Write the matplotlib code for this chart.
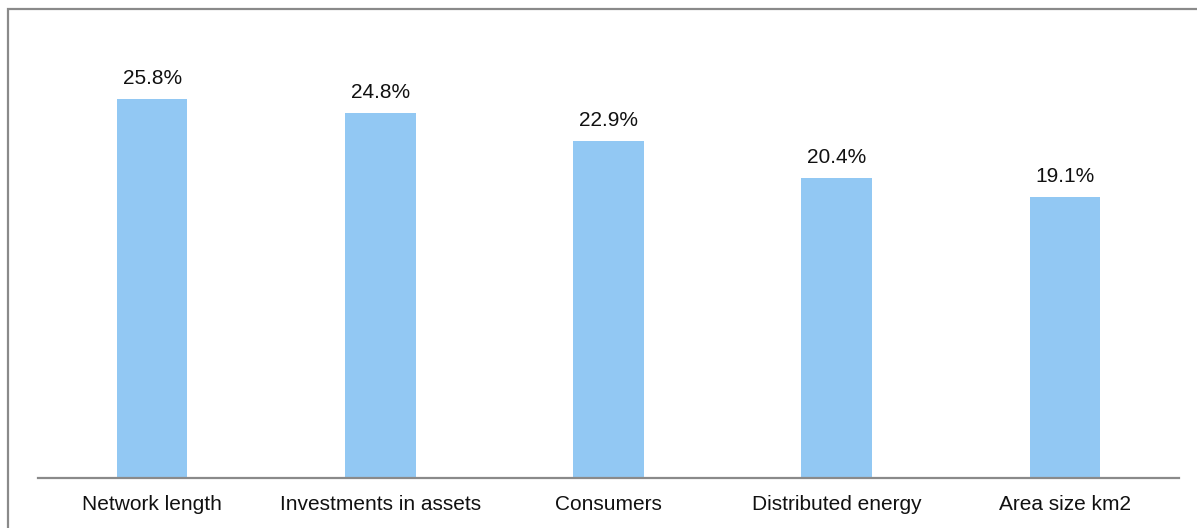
import matplotlib.pyplot as plt
from matplotlib.patches import Rectangle

categories = ['Network length', 'Investments in assets', 'Consumers',
              'Distributed energy', 'Area size km2']
shares = [25.8, 24.8, 22.9, 20.4, 19.1]

plt.rcParams['font.family'] = ['Liberation Sans', 'DejaVu Sans']

fig = plt.figure(figsize=(11.97, 5.28), dpi=100)
W, H = 1197, 528

# Outer frame, open to the right and bottom
fig.patches.append(Rectangle((8 / W, -0.1), 1.2, (H - 9) / H + 0.1,
                             transform=fig.transFigure, fill=False,
                             edgecolor='#8a8a8a', linewidth=1.6))

ax = fig.add_axes([38 / W, 50 / H, (1179 - 38) / W, (478 - 37) / H])
x = range(len(categories))
bars = ax.bar(x, shares, width=0.31, color='#92C8F3')

for rect, v in zip(bars, shares):
    ax.annotate(f'{v}%', (rect.get_x() + rect.get_width() / 2, v),
                xytext=(0, 8), textcoords='offset points',
                ha='center', va='bottom', fontsize=15, color='#111111')

ax.set_xlim(-0.5, len(categories) - 0.5)
ax.set_ylim(0, 30)
ax.set_xticks(list(x))
ax.set_xticklabels(categories, fontsize=15, color='#111111')
ax.tick_params(axis='x', length=0, pad=12)
ax.set_yticks([])
for side in ['top', 'right', 'left']:
    ax.spines[side].set_visible(False)
ax.spines['bottom'].set_color('#8a8a8a')
ax.spines['bottom'].set_linewidth(1.6)

fig.savefig('out.png', dpi=100)
